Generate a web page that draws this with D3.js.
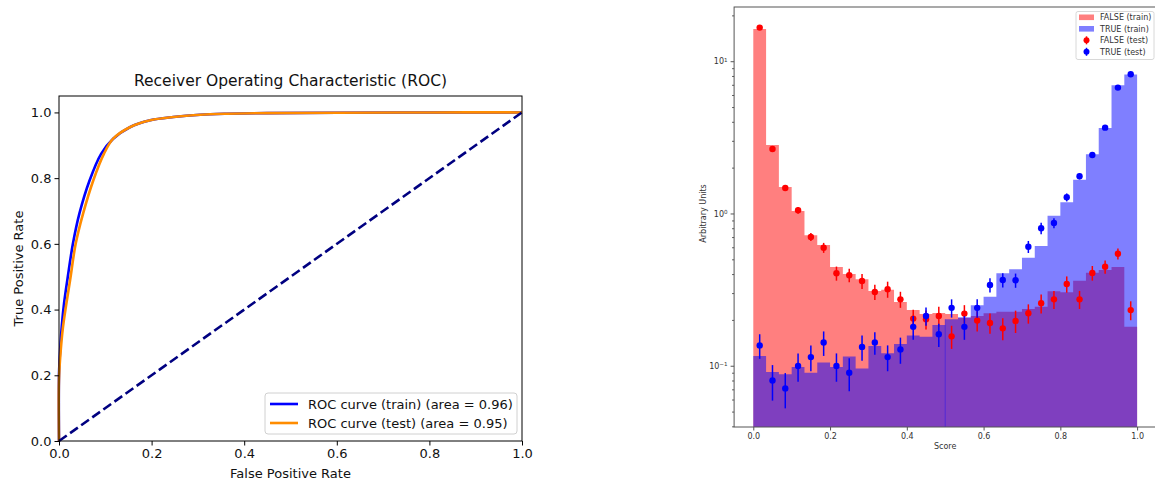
<!DOCTYPE html>
<html>
<head>
<meta charset="utf-8">
<script src="https://cdn.jsdelivr.net/npm/d3@7"></script>
<style>
  body { margin: 0; background: #fff; }
  svg { display: block; font-family: "DejaVu Sans", sans-serif; }
</style>
</head>
<body>
<svg id="fig" width="1155" height="480"></svg>
<script>
// ROC curves
const rocTrainFpr = [0, 0, 0.003, 0.006, 0.011, 0.019, 0.030, 0.044, 0.066, 0.091, 0.117, 0.153, 0.197, 0.247, 0.305, 0.362, 0.45, 0.6, 0.8, 1.0];
const rocTrainTpr = [0, 0.2, 0.29, 0.35, 0.42, 0.5, 0.6, 0.692, 0.793, 0.874, 0.92, 0.955, 0.976, 0.986, 0.993, 0.996, 0.998, 0.999, 1.0, 1.0];
const rocTestFpr = [0, 0, 0.004, 0.008, 0.015, 0.024, 0.036, 0.052, 0.074, 0.097, 0.117, 0.153, 0.197, 0.247, 0.305, 0.362, 0.45, 0.6, 0.8, 1.0];
const rocTestTpr = [0, 0.19, 0.28, 0.34, 0.41, 0.49, 0.6, 0.692, 0.793, 0.874, 0.92, 0.955, 0.976, 0.986, 0.993, 0.996, 0.998, 0.999, 1.0, 1.0];
const rocLabels = ['ROC curve (train) (area = 0.96)', 'ROC curve (test) (area = 0.95)'];
const rocTicks = [0, 0.2, 0.4, 0.6, 0.8, 1.0];

// score histograms, 30 bins between 0 and 1
const falseTrain = [16.3, 2.82, 1.49, 1.04, 0.72, 0.62, 0.445, 0.40, 0.37, 0.31, 0.315, 0.262, 0.232, 0.219, 0.222,
                    0.219, 0.206, 0.212, 0.221, 0.226, 0.226, 0.236, 0.244, 0.308, 0.304, 0.362, 0.408, 0.425, 0.445, 0.18];
const trueTrain = [0.116, 0.091, 0.088, 0.098, 0.090, 0.105, 0.098, 0.115, 0.096, 0.135, 0.121, 0.139, 0.158, 0.155, 0.185,
                   0.202, 0.208, 0.250, 0.284, 0.405, 0.430, 0.512, 0.612, 0.967, 1.185, 1.668, 2.449, 3.646, 6.957, 8.17];
const falseTest = [16.63, 2.653, 1.471, 1.049, 0.701, 0.596, 0.405, 0.393, 0.360, 0.305, 0.318, 0.273, 0.204, 0.202, 0.212,
                   0.156, 0.220, 0.198, 0.191, 0.176, 0.197, 0.221, 0.257, 0.273, 0.344, 0.273, 0.407, 0.447, 0.544, 0.232];
const falseTestErr = [0.13, 0.04, 0.066, 0.055, 0.042, 0.045, 0.043, 0.04, 0.041, 0.035, 0.0385, 0.033, 0.029, 0.029, 0.032,
                      0.027, 0.030, 0.030, 0.029, 0.029, 0.033, 0.032, 0.037, 0.037, 0.042, 0.037, 0.045, 0.045, 0.045, 0.033];
const trueTest = [0.136, 0.080, 0.071, 0.0995, 0.114, 0.142, 0.0995, 0.090, 0.133, 0.142, 0.114, 0.128, 0.180, 0.212, 0.161,
                  0.240, 0.180, 0.240, 0.339, 0.366, 0.364, 0.605, 0.80, 0.866, 1.277, 1.756, 2.424, 3.662, 6.708, 8.215];
const trueTestErr = [0.025, 0.021, 0.0185, 0.021, 0.022, 0.026, 0.021, 0.022, 0.025, 0.024, 0.022, 0.025, 0.032, 0.029, 0.028,
                     0.033, 0.032, 0.033, 0.036, 0.039, 0.039, 0.055, 0.069, 0.066, 0.077, 0.08, 0.074, 0.083, 0.10, 0.12];
const scoreTicks = [0, 0.2, 0.4, 0.6, 0.8, 1.0];
const scoreLegend = ['FALSE (train)', 'TRUE (train)', 'FALSE (test)', 'TRUE (test)'];

class Figure {
  constructor() {
    this.svg = d3.select('#fig');
    this.drawRoc();
    this.drawScores();
  }

  drawRoc() {
    const g = this.svg.append('g');
    const x = d3.scaleLinear().domain([0, 1]).range([59, 522]);
    const y = d3.scaleLinear().domain([0, 1.05]).range([441, 96]);

    const line = d3.line().curve(d3.curveCatmullRom.alpha(0.5))
      .x(d => x(d[0])).y(d => y(d[1]));

    g.append('path')
      .attr('d', line(d3.zip(rocTrainFpr, rocTrainTpr)))
      .attr('fill', 'none').attr('stroke', 'blue').attr('stroke-width', 2.6);
    g.append('path')
      .attr('d', line(d3.zip(rocTestFpr, rocTestTpr)))
      .attr('fill', 'none').attr('stroke', 'darkorange').attr('stroke-width', 2.6);
    g.append('line')
      .attr('x1', x(0)).attr('y1', y(0)).attr('x2', x(1)).attr('y2', y(1))
      .attr('stroke', 'navy').attr('stroke-width', 2.6).attr('stroke-dasharray', '9.5,4.1');

    // frame
    g.append('rect')
      .attr('x', x(0)).attr('y', y(1.05))
      .attr('width', x(1) - x(0)).attr('height', y(0) - y(1.05))
      .attr('fill', 'none').attr('stroke', '#000').attr('stroke-width', 1);

    const xAxis = g.append('g').attr('transform', `translate(0,${y(0)})`)
      .call(d3.axisBottom(x).tickValues(rocTicks).tickFormat(d3.format('.1f')).tickSize(4.5).tickPadding(3));
    const yAxis = g.append('g').attr('transform', `translate(${x(0)},0)`)
      .call(d3.axisLeft(y).tickValues(rocTicks).tickFormat(d3.format('.1f')).tickSize(4.5).tickPadding(3));
    [xAxis, yAxis].forEach(a => {
      a.select('.domain').remove();
      a.selectAll('text').attr('font-size', 13).attr('font-family', 'DejaVu Sans').attr('fill', '#111');
    });

    g.append('text').attr('x', (x(0) + x(1)) / 2).attr('y', 86)
      .attr('text-anchor', 'middle').attr('font-size', 15.5).attr('fill', '#111')
      .text('Receiver Operating Characteristic (ROC)');
    g.append('text').attr('x', (x(0) + x(1)) / 2).attr('y', 478)
      .attr('text-anchor', 'middle').attr('font-size', 13).attr('fill', '#111')
      .text('False Positive Rate');
    g.append('text').attr('transform', `translate(23,${(y(0) + y(1.05)) / 2}) rotate(-90)`)
      .attr('text-anchor', 'middle').attr('font-size', 13).attr('fill', '#111')
      .text('True Positive Rate');

    // legend
    const lg = g.append('g');
    lg.append('rect').attr('x', 265).attr('y', 393).attr('width', 252).attr('height', 41)
      .attr('rx', 3).attr('fill', '#fff').attr('fill-opacity', 0.8).attr('stroke', '#d0d0d0');
    const cols = ['blue', 'darkorange'];
    rocLabels.forEach((t, i) => {
      const yy = 404 + i * 19;
      lg.append('line').attr('x1', 270).attr('x2', 298).attr('y1', yy).attr('y2', yy)
        .attr('stroke', cols[i]).attr('stroke-width', 2.6);
      lg.append('text').attr('x', 308).attr('y', yy + 4.5).attr('font-size', 13).attr('fill', '#111').text(t);
    });
  }

  drawScores() {
    const g = this.svg.append('g');
    const x = d3.scaleLinear().domain([-0.05, 1.05]).range([734.1, 1156.3]);
    const y = d3.scaleLog().domain([0.0396, 22.7]).range([427, 7]);
    const edges = d3.range(falseTrain.length + 1).map(i => i / falseTrain.length);
    const centers = edges.slice(0, -1).map((e, i) => (e + edges[i + 1]) / 2);

    const area = d3.area().curve(d3.curveStepAfter)
      .x(d => x(d[0])).y0(y.range()[0]).y1(d => y(d[1]));
    const steps = vals => vals.map((v, i) => [edges[i], v]).concat([[1, vals[vals.length - 1]]]);

    g.append('path').attr('d', area(steps(falseTrain))).attr('fill', 'red').attr('fill-opacity', 0.5);
    g.append('path').attr('d', area(steps(trueTrain))).attr('fill', 'blue').attr('fill-opacity', 0.5);
    // thin edge seen at score 0.5
    g.append('line').attr('x1', x(0.5)).attr('x2', x(0.5))
      .attr('y1', y(trueTrain[15])).attr('y2', y.range()[0])
      .attr('stroke', 'blue').attr('stroke-opacity', 0.35).attr('stroke-width', 1);

    const points = (vals, errs, col) => {
      const pg = g.append('g');
      pg.selectAll('line').data(vals).enter().append('line')
        .attr('x1', (d, i) => x(centers[i])).attr('x2', (d, i) => x(centers[i]))
        .attr('y1', (d, i) => y(d - errs[i])).attr('y2', (d, i) => y(d + errs[i]))
        .attr('stroke', col).attr('stroke-width', 1.5);
      pg.selectAll('circle').data(vals).enter().append('circle')
        .attr('cx', (d, i) => x(centers[i])).attr('cy', d => y(d))
        .attr('r', 3.2).attr('fill', col);
    };
    points(falseTest, falseTestErr, 'red');
    points(trueTest, trueTestErr, 'blue');

    // spines (right one is outside the picture)
    g.append('rect').attr('x', x(-0.05)).attr('y', 7)
      .attr('width', x(1.05) - x(-0.05)).attr('height', 420)
      .attr('fill', 'none').attr('stroke', '#555').attr('stroke-width', 1);

    const xAxis = g.append('g').attr('transform', `translate(0,427)`)
      .call(d3.axisBottom(x).tickValues(scoreTicks).tickFormat(d3.format('.1f')).tickSize(3.5).tickPadding(2.5));
    const minor = y.ticks().filter(t => ![0.1, 1, 10].includes(t));
    const yMinor = g.append('g').attr('transform', `translate(${x(-0.05)},0)`)
      .call(d3.axisLeft(y).tickValues(minor).tickFormat('').tickSize(2));
    const yMajor = g.append('g').attr('transform', `translate(${x(-0.05)},0)`)
      .call(d3.axisLeft(y).tickValues([0.1, 1, 10]).tickSize(3.5).tickPadding(3));
    [xAxis, yMinor, yMajor].forEach(a => {
      a.select('.domain').remove();
      a.selectAll('line').attr('stroke', '#555');
      a.selectAll('text').attr('font-size', 8).attr('font-family', 'DejaVu Sans').attr('fill', '#333');
    });
    yMajor.selectAll('text').each(function(d) {
      const t = d3.select(this).text('');
      t.append('tspan').text('10');
      t.append('tspan').attr('dy', '-0.45em').attr('font-size', 5.6)
        .text(String(Math.round(Math.log10(d))).replace('-', '\u2212'));
    });

    g.append('text').attr('x', x(0.5)).attr('y', 449).attr('text-anchor', 'middle')
      .attr('font-size', 8).attr('fill', '#333').text('Score');
    g.append('text').attr('transform', `translate(706,${y(1)}) rotate(-90)`).attr('text-anchor', 'middle')
      .attr('font-size', 8).attr('fill', '#333').text('Arbitrary Units');

    // legend
    const lg = g.append('g');
    lg.append('rect').attr('x', 1076).attr('y', 11.5).attr('width', 78).attr('height', 48)
      .attr('rx', 2).attr('fill', '#fff').attr('fill-opacity', 0.8).attr('stroke', '#d8d8d8');
    const cols = ['red', 'blue', 'red', 'blue'];
    scoreLegend.forEach((t, i) => {
      const yy = 17.3 + i * 11.5;
      if (i < 2) {
        lg.append('rect').attr('x', 1079).attr('y', yy - 2.8).attr('width', 15).attr('height', 5.6)
          .attr('fill', cols[i]).attr('fill-opacity', 0.5);
      } else {
        lg.append('line').attr('x1', 1086.5).attr('x2', 1086.5).attr('y1', yy - 4).attr('y2', yy + 4)
          .attr('stroke', cols[i]).attr('stroke-width', 1.5);
        lg.append('circle').attr('cx', 1086.5).attr('cy', yy).attr('r', 3).attr('fill', cols[i]);
      }
      lg.append('text').attr('x', 1100).attr('y', yy + 3).attr('font-size', 8).attr('fill', '#333').text(t);
    });
  }
}

let fig = new Figure();
</script>
</body>
</html>
